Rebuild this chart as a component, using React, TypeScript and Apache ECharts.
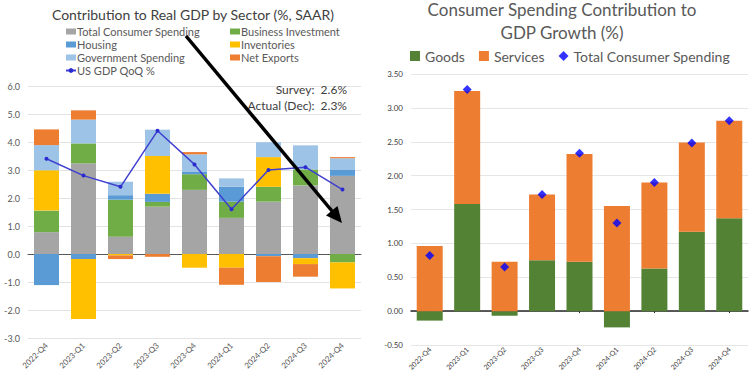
import React, { useEffect, useRef } from "react";
import * as echarts from "echarts";

const categories = ["2022-Q4", "2023-Q1", "2023-Q2", "2023-Q3", "2023-Q4", "2024-Q1", "2024-Q2", "2024-Q3", "2024-Q4"];

// Left chart: contribution to real GDP by sector
const consumer = [0.78, 3.24, 0.62, 1.69, 2.29, 1.29, 1.87, 2.45, 2.79];
const business = [0.77, 0.71, 1.32, 0.17, 0.56, 0.58, 0.53, 0.57, -0.3];
const housing = [-1.11, -0.18, 0.16, 0.29, 0.08, 0.53, -0.08, -0.15, 0.21];
const inventories = [1.44, -2.14, -0.05, 1.35, -0.49, -0.49, 1.06, -0.21, -0.93];
const government = [0.9, 0.85, 0.48, 0.94, 0.63, 0.3, 0.53, 0.86, 0.42];
const netExports = [0.56, 0.33, -0.13, -0.1, 0.08, -0.61, -0.92, -0.45, 0.04];
const gdpQoQ = [3.4, 2.8, 2.4, 4.4, 3.2, 1.6, 3.0, 3.1, 2.3];

// Right chart: consumer spending contribution
const goods = [-0.14, 1.58, -0.07, 0.75, 0.73, -0.24, 0.63, 1.17, 1.37];
const services = [0.96, 1.67, 0.73, 0.97, 1.59, 1.55, 1.27, 1.32, 1.44];
const totalConsumer = [0.82, 3.27, 0.65, 1.72, 2.33, 1.3, 1.9, 2.48, 2.81];

const annotations = ["Survey:  2.6%", "Actual (Dec):  2.3%"];

const FONT = "Lato, 'Open Sans', sans-serif";

export default function App() {
  const ref = useRef<HTMLDivElement>(null);

  useEffect(() => {
    document.body.style.margin = "0";
    if (!ref.current) return;
    const chart = echarts.init(ref.current, null, { renderer: "svg" });

    // arrow geometry
    const sx = 186, sy = 36, tx = 342, ty = 223;
    const dx = tx - sx, dy = ty - sy;
    const len = Math.sqrt(dx * dx + dy * dy);
    const ux = dx / len, uy = dy / len;
    const hl = 16, hw = 7.5;
    const bx = tx - hl * ux, by = ty - hl * uy;
    const px = -uy, py = ux;

    const leftBar = (name: string, data: number[], color: string) => ({
      name,
      type: "bar",
      stack: "L",
      xAxisIndex: 0,
      yAxisIndex: 0,
      barWidth: 25,
      data,
      itemStyle: { color },
    });

    chart.setOption({
      animation: false,
      textStyle: { fontFamily: FONT },
      title: [
        {
          text: "Contribution to Real GDP by Sector (%, SAAR)",
          left: 188,
          top: 2,
          textAlign: "center",
          textStyle: { fontSize: 14, fontWeight: "normal", color: "#404040", fontFamily: FONT },
        },
        {
          text: "Consumer Spending Contribution to\nGDP Growth (%)",
          left: 562,
          top: -2,
          padding: 0,
          textAlign: "center",
          textStyle: { fontSize: 17, lineHeight: 23, fontWeight: "normal", color: "#595959", fontFamily: FONT },
        },
      ],
      legend: [
        {
          orient: "vertical",
          left: 65,
          top: 25,
          padding: 0,
          itemWidth: 10,
          itemHeight: 6,
          itemGap: 0,
          textStyle: { fontSize: 11, lineHeight: 13, color: "#595959", padding: [0, 0, 0, -4] },
          data: [
            { name: "Total Consumer Spending", icon: "rect" },
            { name: "Housing", icon: "rect" },
            { name: "Government Spending", icon: "rect" },
            { name: "US GDP QoQ %" },
          ],
        },
        {
          orient: "vertical",
          left: 230,
          top: 25,
          padding: 0,
          itemWidth: 10,
          itemHeight: 6,
          itemGap: 0,
          textStyle: { fontSize: 11, lineHeight: 13, color: "#595959", padding: [0, 0, 0, -4] },
          data: [
            { name: "Business Investment", icon: "rect" },
            { name: "Inventories", icon: "rect" },
            { name: "Net Exports", icon: "rect" },
          ],
        },
        {
          orient: "horizontal",
          left: 410,
          top: 49,
          padding: 0,
          itemWidth: 10,
          itemHeight: 10,
          itemGap: 14,
          textStyle: { fontSize: 14, color: "#595959" },
          data: [
            { name: "Goods", icon: "rect" },
            { name: "Services", icon: "rect" },
            { name: "Total Consumer Spending ", icon: "diamond" },
          ],
        },
      ],
      grid: [
        { left: 28, top: 86, width: 333, height: 252 },
        { left: 411, top: 74, width: 337, height: 271 },
      ],
      xAxis: [
        {
          type: "category",
          gridIndex: 0,
          data: categories,
          axisLine: { show: false, onZero: false },
          axisTick: { show: false },
          axisLabel: { rotate: 45, fontSize: 8, color: "#595959", margin: 6 },
        },
        {
          type: "category",
          gridIndex: 0,
          position: "bottom",
          data: categories,
          axisLine: { show: true, onZero: true, lineStyle: { color: "#595959", width: 1 } },
          axisTick: { show: false },
          axisLabel: { show: false },
        },
        {
          type: "category",
          gridIndex: 1,
          data: categories,
          axisLine: { show: false, onZero: false },
          axisTick: { show: false },
          axisLabel: { rotate: 45, fontSize: 7, color: "#404040", margin: 3 },
        },
        {
          type: "category",
          gridIndex: 1,
          position: "bottom",
          data: categories,
          axisLine: { show: true, onZero: true, lineStyle: { color: "#262626", width: 1.5 } },
          axisTick: { show: true, alignWithLabel: true, length: 2, lineStyle: { color: "#262626" } },
          axisLabel: { show: false },
        },
      ],
      yAxis: [
        {
          type: "value",
          gridIndex: 0,
          min: -3,
          max: 6,
          interval: 1,
          axisLine: { show: false },
          axisTick: { show: false },
          splitLine: { lineStyle: { color: "#E3E3E3", width: 1 } },
          axisLabel: { fontSize: 9, color: "#595959", margin: 8, formatter: (v: number) => v.toFixed(1) },
        },
        {
          type: "value",
          gridIndex: 1,
          min: -0.5,
          max: 3.5,
          interval: 0.5,
          axisLine: { show: false },
          axisTick: { show: false },
          splitLine: { lineStyle: { color: "#E6E6E6", width: 1 } },
          axisLabel: { fontSize: 8, color: "#404040", margin: 8, formatter: (v: number) => v.toFixed(2) },
        },
      ],
      series: [
        leftBar("Total Consumer Spending", consumer, "#A5A5A5"),
        leftBar("Business Investment", business, "#70AD47"),
        leftBar("Housing", housing, "#5B9BD5"),
        leftBar("Inventories", inventories, "#FFC000"),
        leftBar("Government Spending", government, "#9DC3E6"),
        leftBar("Net Exports", netExports, "#ED7D31"),
        {
          name: "US GDP QoQ %",
          type: "line",
          xAxisIndex: 0,
          yAxisIndex: 0,
          data: gdpQoQ,
          symbol: "circle",
          symbolSize: 4,
          lineStyle: { color: "#4040D0", width: 1.5 },
          itemStyle: { color: "#2A2AD0" },
          z: 5,
        },
        {
          name: "Goods",
          type: "bar",
          stack: "R",
          xAxisIndex: 2,
          yAxisIndex: 1,
          barWidth: 26,
          data: goods,
          itemStyle: { color: "#548235" },
        },
        {
          name: "Services",
          type: "bar",
          stack: "R",
          xAxisIndex: 2,
          yAxisIndex: 1,
          barWidth: 26,
          data: services,
          itemStyle: { color: "#ED7D31" },
        },
        {
          name: "Total Consumer Spending ",
          type: "scatter",
          xAxisIndex: 2,
          yAxisIndex: 1,
          symbol: "diamond",
          symbolSize: 9,
          data: totalConsumer,
          itemStyle: { color: "#0000FF" },
          z: 5,
        },
      ],
      graphic: [
        {
          type: "text",
          x: 347,
          y: 89,
          z: 10,
          style: {
            text: annotations[0],
            align: "right",
            textAlign: "right",
            verticalAlign: "middle",
            textVerticalAlign: "middle",
            font: `12px ${FONT}`,
            fill: "#404040",
          },
        },
        {
          type: "text",
          x: 347,
          y: 105,
          z: 10,
          style: {
            text: annotations[1],
            align: "right",
            textAlign: "right",
            verticalAlign: "middle",
            textVerticalAlign: "middle",
            font: `12px ${FONT}`,
            fill: "#404040",
          },
        },
        {
          type: "line",
          z: 20,
          shape: { x1: sx, y1: sy, x2: bx + 2 * ux, y2: by + 2 * uy },
          style: { stroke: "#000000", lineWidth: 3.5 },
        },
        {
          type: "polygon",
          z: 20,
          shape: {
            points: [
              [tx, ty],
              [bx + hw * px, by + hw * py],
              [bx - hw * px, by - hw * py],
            ],
          },
          style: { fill: "#000000" },
        },
      ],
    });

    return () => chart.dispose();
  }, []);

  return <div ref={ref} style={{ width: 750, height: 381 }} />;
}
